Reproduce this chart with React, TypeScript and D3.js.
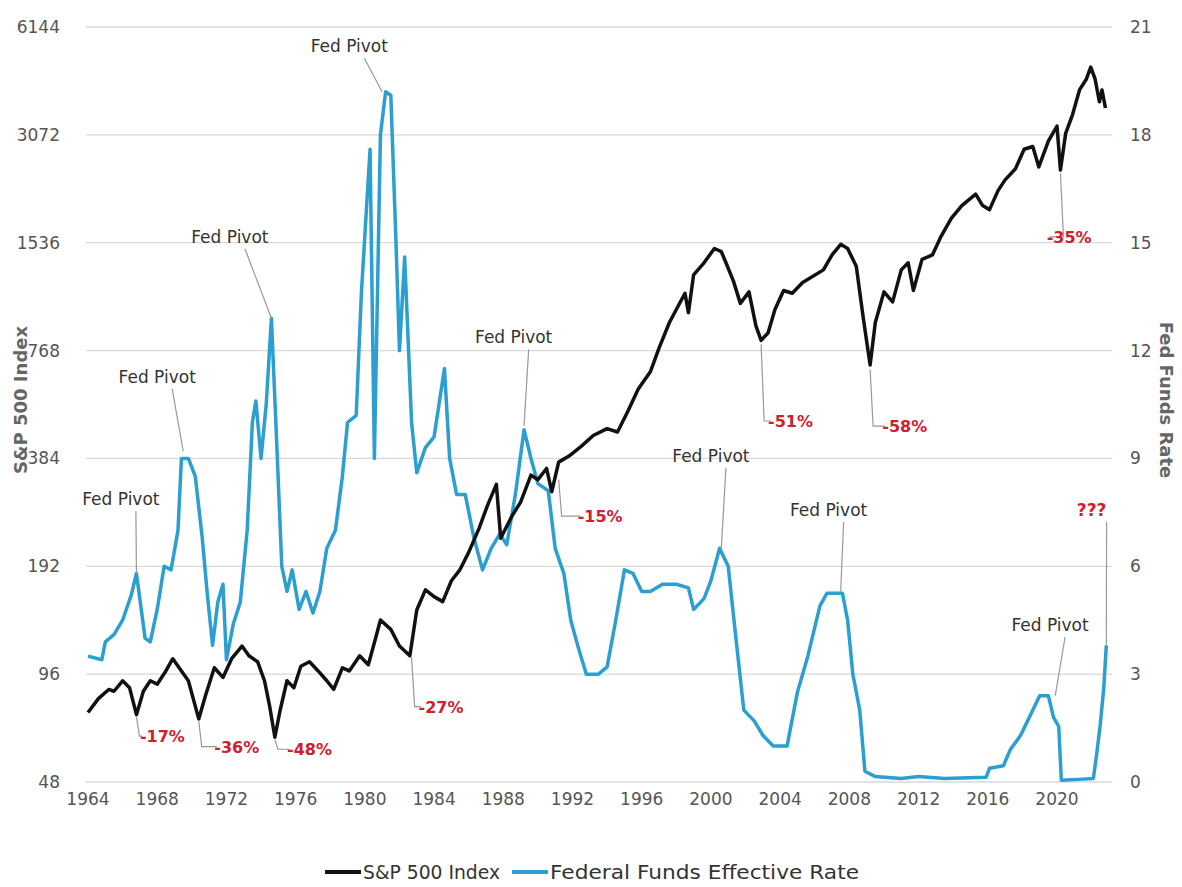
import * as d3 from "d3";
import { useEffect, useRef } from "react";

// [year, S&P 500 index level]
const spx: [number, number][] = [
  [1964, 75], [1964.6, 82], [1965.2, 87], [1965.5, 86], [1966, 92], [1966.4, 88], [1966.8, 74],
  [1967.2, 86], [1967.6, 92], [1968, 90], [1968.5, 98], [1968.9, 106], [1969.4, 98], [1969.8, 92],
  [1970.4, 72], [1970.8, 84], [1971.3, 100], [1971.8, 94], [1972.3, 106], [1972.9, 115], [1973.3, 108],
  [1973.8, 104], [1974.2, 92], [1974.5, 78], [1974.8, 64], [1975.1, 76], [1975.5, 92], [1975.9, 88],
  [1976.3, 101], [1976.8, 104], [1977.3, 98], [1977.8, 92], [1978.2, 87], [1978.7, 100], [1979.1, 98],
  [1979.7, 108], [1980.2, 102], [1980.6, 120], [1980.9, 136], [1981.5, 128], [1982, 115], [1982.6, 108],
  [1983, 145], [1983.5, 165], [1984, 158], [1984.5, 153], [1985, 175], [1985.5, 188], [1986, 210],
  [1986.6, 245], [1987.1, 285], [1987.6, 325], [1987.85, 230], [1988.5, 265], [1989, 290], [1989.6, 345],
  [1990, 335], [1990.5, 360], [1990.8, 310], [1991.2, 375], [1991.8, 390], [1992.5, 415], [1993.2, 445],
  [1994, 465], [1994.6, 455], [1995.2, 520], [1995.8, 600], [1996.5, 670], [1997, 780], [1997.6, 920],
  [1998.5, 1110], [1998.7, 980], [1999, 1250], [1999.6, 1350], [2000.2, 1480], [2000.6, 1450],
  [2000.9, 1340], [2001.3, 1200], [2001.7, 1040], [2002.2, 1120], [2002.6, 900], [2002.9, 820],
  [2003.3, 860], [2003.7, 1000], [2004.2, 1130], [2004.7, 1110], [2005.3, 1190], [2005.8, 1230],
  [2006.5, 1290], [2007, 1420], [2007.5, 1520], [2007.9, 1480], [2008.4, 1320], [2008.8, 950],
  [2009.2, 700], [2009.5, 920], [2010, 1120], [2010.5, 1050], [2011, 1290], [2011.4, 1350],
  [2011.7, 1130], [2012.2, 1380], [2012.8, 1420], [2013.3, 1600], [2013.9, 1800], [2014.5, 1950],
  [2015.3, 2100], [2015.7, 1950], [2016.1, 1900], [2016.6, 2150], [2017, 2300], [2017.6, 2470],
  [2018.1, 2800], [2018.6, 2850], [2018.95, 2500], [2019.5, 2950], [2020, 3250], [2020.2, 2450],
  [2020.5, 3100], [2020.9, 3500], [2021.3, 4100], [2021.7, 4400], [2021.95, 4750], [2022.2, 4400],
  [2022.45, 3800], [2022.6, 4100], [2022.8, 3650],
];

// [year, effective fed funds rate %]
const fedFunds: [number, number][] = [
  [1964, 3.5], [1964.8, 3.4], [1965, 3.9], [1965.5, 4.1], [1966, 4.5], [1966.5, 5.2], [1966.8, 5.8],
  [1967.3, 4.0], [1967.6, 3.9], [1968, 4.8], [1968.4, 6.0], [1968.8, 5.9], [1969.2, 7.0], [1969.4, 9.0],
  [1969.8, 9.0], [1970.2, 8.5], [1970.6, 6.8], [1970.9, 5.2], [1971.2, 3.8], [1971.5, 5.0],
  [1971.8, 5.5], [1972, 3.4], [1972.4, 4.4], [1972.8, 5.0], [1973.2, 7.0], [1973.5, 10.0],
  [1973.7, 10.6], [1974, 9.0], [1974.3, 10.5], [1974.6, 12.9], [1974.9, 9.5], [1975.2, 6.0],
  [1975.5, 5.3], [1975.8, 5.9], [1976.2, 4.8], [1976.6, 5.3], [1977, 4.7], [1977.4, 5.3],
  [1977.8, 6.5], [1978.3, 7.0], [1978.7, 8.5], [1979, 10.0], [1979.5, 10.2], [1979.8, 13.6],
  [1980.3, 17.6], [1980.55, 9.0], [1980.9, 18.0], [1981.2, 19.2], [1981.5, 19.1], [1981.8, 15.0],
  [1982, 12.0], [1982.3, 14.6], [1982.7, 10.0], [1983, 8.6], [1983.5, 9.3], [1984, 9.6],
  [1984.6, 11.5], [1984.9, 9.0], [1985.3, 8.0], [1985.8, 8.0], [1986.3, 6.8], [1986.8, 5.9],
  [1987.3, 6.5], [1987.8, 6.9], [1988.2, 6.6], [1988.7, 8.0], [1989.2, 9.8], [1989.6, 9.0],
  [1990, 8.3], [1990.6, 8.1], [1991, 6.5], [1991.5, 5.8], [1991.9, 4.5], [1992.3, 3.8],
  [1992.8, 3.0], [1993.5, 3.0], [1994, 3.2], [1994.5, 4.5], [1995, 5.9], [1995.5, 5.8],
  [1996, 5.3], [1996.5, 5.3], [1997.2, 5.5], [1998, 5.5], [1998.7, 5.4], [1999, 4.8],
  [1999.6, 5.1], [2000, 5.6], [2000.5, 6.5], [2001, 6.0], [2001.4, 4.2], [2001.9, 2.0],
  [2002.5, 1.7], [2003, 1.3], [2003.6, 1.0], [2004.4, 1.0], [2005, 2.5], [2005.6, 3.5],
  [2006.3, 4.9], [2006.7, 5.25], [2007.6, 5.25], [2007.9, 4.5], [2008.2, 3.0], [2008.6, 2.0],
  [2008.9, 0.3], [2009.5, 0.15], [2011, 0.1], [2012, 0.15], [2013.5, 0.1], [2015.9, 0.13],
  [2016.1, 0.38], [2016.9, 0.45], [2017.3, 0.9], [2017.9, 1.3], [2018.5, 1.9], [2019, 2.4],
  [2019.5, 2.4], [2019.8, 1.8], [2020.1, 1.55], [2020.25, 0.05], [2021.5, 0.08], [2022.1, 0.1],
  [2022.3, 0.8], [2022.5, 1.6], [2022.7, 2.6], [2022.85, 3.8],
];

const leftTicks = [48, 96, 192, 384, 768, 1536, 3072, 6144];
const rightTicks = [0, 3, 6, 9, 12, 15, 18, 21];
const yearTicks = d3.range(1964, 2021, 4);

// Fed pivot callouts: label [year, rate], pointer target [year, rate]
const pivots: { text: string; label: [number, number]; target: [number, number]; red?: boolean }[] = [
  { text: "Fed Pivot", label: [1965.9, 7.7], target: [1966.8, 5.8] },
  { text: "Fed Pivot", label: [1968.0, 11.1], target: [1969.5, 9.2] },
  { text: "Fed Pivot", label: [1972.2, 15.0], target: [1974.6, 12.9] },
  { text: "Fed Pivot", label: [1979.1, 20.3], target: [1981.0, 19.2] },
  { text: "Fed Pivot", label: [1988.6, 12.2], target: [1989.2, 9.9] },
  { text: "Fed Pivot", label: [2000.0, 8.9], target: [2000.6, 6.5] },
  { text: "Fed Pivot", label: [2006.8, 7.4], target: [2007.5, 5.3] },
  { text: "Fed Pivot", label: [2019.6, 4.2], target: [2019.9, 2.4] },
  { text: "???", label: [2022.0, 7.4], target: [2022.85, 3.8], red: true },
];

// Drawdown callouts: label [year, index], pointer target [year, index]
const drawdowns: { text: string; label: [number, number]; target: [number, number] }[] = [
  { text: "-17%", label: [1968.3, 62], target: [1966.8, 73] },
  { text: "-36%", label: [1972.6, 58], target: [1970.4, 71] },
  { text: "-48%", label: [1976.8, 57], target: [1974.8, 63] },
  { text: "-27%", label: [1984.4, 75], target: [1982.7, 107] },
  { text: "-15%", label: [1993.6, 255], target: [1991.2, 335] },
  { text: "-51%", label: [2004.6, 470], target: [2002.9, 800] },
  { text: "-58%", label: [2011.2, 455], target: [2009.2, 680] },
  { text: "-35%", label: [2020.7, 1535], target: [2020.2, 2400] },
];

const legendItems = [
  { label: "S&P 500 Index", color: "#111", width: 137 },
  { label: "Federal Funds Effective Rate", color: "#2a9fd0", width: 309 },
];

const FONT = "'DejaVu Sans', sans-serif";

export default function App() {
  const ref = useRef<SVGSVGElement | null>(null);

  useEffect(() => {
    if (!ref.current) return;
    const svg = d3.select(ref.current);
    svg.selectAll("*").remove();

    const x = d3.scaleLinear().domain([1964, 2020]).range([88, 1057]);
    const yL = d3.scaleLog().base(2).domain([48, 6144]).range([782, 27]);
    const yR = d3.scaleLinear().domain([0, 21]).range([782, 27]);

    const txt = (sel: any, size: number) =>
      sel.attr("font-family", FONT).attr("font-size", size);

    svg.append("g")
      .selectAll("line")
      .data(leftTicks)
      .join("line")
      .attr("x1", 86)
      .attr("x2", 1112)
      .attr("y1", (d) => yL(d))
      .attr("y2", (d) => yL(d))
      .attr("stroke", "#d9d9d9")
      .attr("stroke-width", 1.3);

    svg.append("g")
      .selectAll("text")
      .data(leftTicks)
      .join("text")
      .attr("x", 60)
      .attr("y", (d) => yL(d) + 6)
      .attr("text-anchor", "end")
      .attr("fill", "#555")
      .text((d) => d)
      .call(txt, 17);

    svg.append("g")
      .selectAll("text")
      .data(rightTicks)
      .join("text")
      .attr("x", 1130)
      .attr("y", (d) => yR(d) + 6)
      .attr("fill", "#555")
      .text((d) => d)
      .call(txt, 17);

    svg.append("g")
      .selectAll("text")
      .data(yearTicks)
      .join("text")
      .attr("x", (d) => x(d))
      .attr("y", 805)
      .attr("text-anchor", "middle")
      .attr("fill", "#555")
      .text((d) => d)
      .call(txt, 17);

    svg.append("text")
      .attr("transform", "translate(27,400) rotate(-90)")
      .attr("text-anchor", "middle")
      .attr("font-weight", "bold")
      .attr("fill", "#666")
      .text("S&P 500 Index")
      .call(txt, 18);

    svg.append("text")
      .attr("transform", "translate(1160,400) rotate(90)")
      .attr("text-anchor", "middle")
      .attr("font-weight", "bold")
      .attr("fill", "#666")
      .text("Fed Funds Rate")
      .call(txt, 18);

    const fedLine = d3.line<[number, number]>().x((d) => x(d[0])).y((d) => yR(d[1]));
    const spxLine = d3.line<[number, number]>().x((d) => x(d[0])).y((d) => yL(d[1]));

    svg.append("path")
      .datum(fedFunds)
      .attr("d", fedLine)
      .attr("fill", "none")
      .attr("stroke", "#2a9fd0")
      .attr("stroke-width", 3.5)
      .attr("stroke-linejoin", "round");

    svg.append("path")
      .datum(spx)
      .attr("d", spxLine)
      .attr("fill", "none")
      .attr("stroke", "#111")
      .attr("stroke-width", 3.5)
      .attr("stroke-linejoin", "round");

    pivots.forEach((p) => {
      const lx = x(p.label[0]);
      const ly = yR(p.label[1]);
      svg.append("line")
        .attr("x1", lx + 15)
        .attr("y1", ly + 6)
        .attr("x2", x(p.target[0]))
        .attr("y2", yR(p.target[1]))
        .attr("stroke", "#999")
        .attr("stroke-width", 1.2);
      svg.append("text")
        .attr("x", lx)
        .attr("y", ly)
        .attr("text-anchor", "middle")
        .attr("fill", p.red ? "#d0202e" : "#333")
        .attr("font-weight", p.red ? "bold" : "normal")
        .text(p.text)
        .call(txt, 17);
    });

    drawdowns.forEach((d) => {
      const tx = x(d.target[0]);
      const ty = yL(d.target[1]);
      const lx = x(d.label[0]);
      const ly = yL(d.label[1]);
      svg.append("polyline")
        .attr("points", `${tx},${ty} ${tx + 3},${ly - 6} ${lx - 20},${ly - 6}`)
        .attr("fill", "none")
        .attr("stroke", "#999")
        .attr("stroke-width", 1.2);
      svg.append("text")
        .attr("x", lx)
        .attr("y", ly)
        .attr("text-anchor", "middle")
        .attr("font-weight", "bold")
        .attr("fill", "#d0202e")
        .text(d.text)
        .call(txt, 16);
    });

    let lx0 = 325;
    legendItems.forEach((l) => {
      svg.append("line")
        .attr("x1", lx0)
        .attr("x2", lx0 + 36)
        .attr("y1", 872)
        .attr("y2", 872)
        .attr("stroke", l.color)
        .attr("stroke-width", 4);
      svg.append("text")
        .attr("x", lx0 + 38)
        .attr("y", 879)
        .attr("fill", "#333")
        .attr("textLength", l.width)
        .attr("lengthAdjust", "spacingAndGlyphs")
        .text(l.label)
        .call(txt, 20);
      lx0 += 38 + l.width + 12;
    });
  }, []);

  return (
    <svg
      ref={ref}
      width={1182}
      height={887}
      style={{ position: "absolute", left: 0, top: 0, background: "#fff" }}
    />
  );
}
